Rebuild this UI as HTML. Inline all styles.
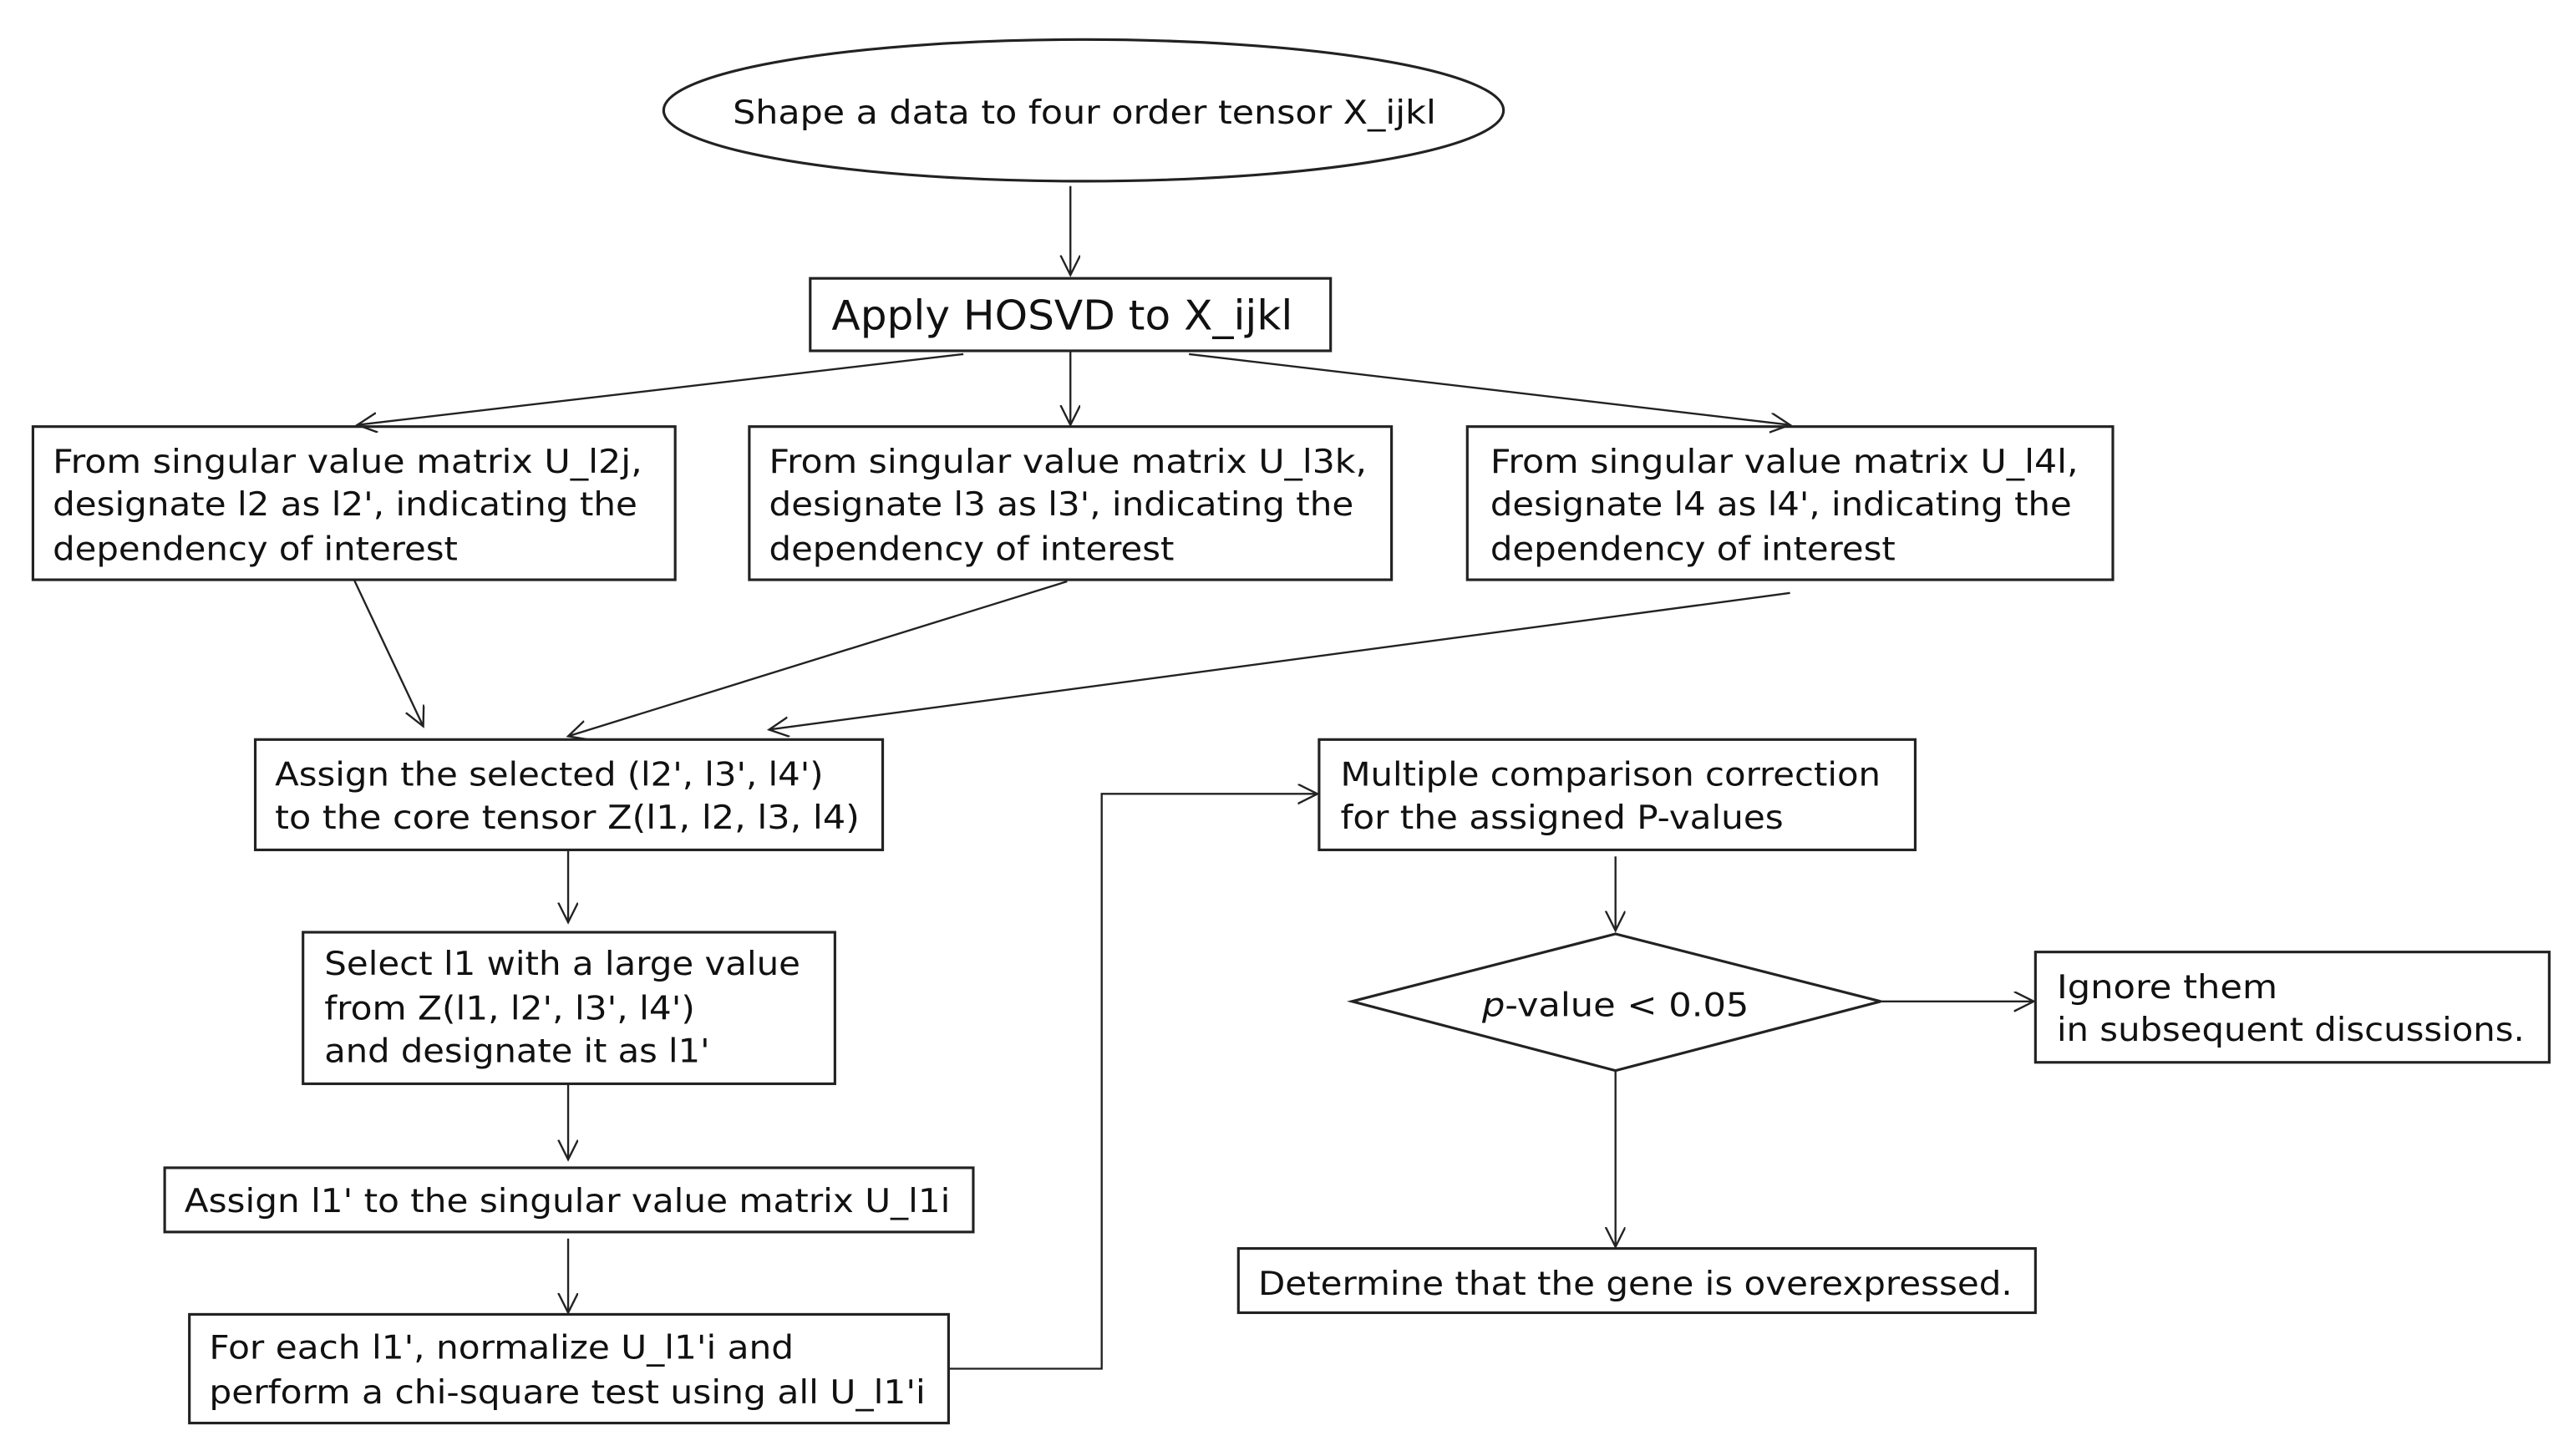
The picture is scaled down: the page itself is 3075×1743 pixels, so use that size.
<!DOCTYPE html>
<html><head><meta charset="utf-8"><style>
html,body{margin:0;padding:0;background:#fff;}
svg{display:block;}
text{font-family:"DejaVu Sans","Liberation Sans",sans-serif;font-size:20px;fill:#111;}
</style></head><body>
<svg width="3075" height="1743" viewBox="0 0 1560 884" preserveAspectRatio="none" xmlns="http://www.w3.org/2000/svg">
<defs>
<marker id="a" markerWidth="14" markerHeight="14" refX="12" refY="6" orient="auto" markerUnits="userSpaceOnUse">
<path d="M0,0 L12,6 L0,12" fill="none" stroke="#222" stroke-width="1.2"/>
</marker>
</defs>
<g fill="none" stroke="#222" stroke-width="1.6">
<ellipse cx="658" cy="67" rx="255" ry="43"/>
<rect x="492" y="169" width="316" height="44"/>
<rect x="20" y="259" width="390" height="93"/>
<rect x="455" y="259" width="390" height="93"/>
<rect x="891" y="259" width="392" height="93"/>
<rect x="155" y="449" width="381" height="67"/>
<rect x="184" y="566" width="323" height="92"/>
<rect x="100" y="709" width="491" height="39"/>
<rect x="115" y="798" width="461" height="66"/>
<rect x="801" y="449" width="362" height="67"/>
<polygon points="821,608 981,567 1142,608 981,650"/>
<rect x="1236" y="578" width="312" height="67"/>
<rect x="752" y="758" width="484" height="39"/>
</g>
<g fill="none" stroke="#222" stroke-width="1.2" marker-end="url(#a)">
<line x1="650" y1="113" x2="650" y2="167"/>
<line x1="585" y1="215" x2="217" y2="258"/>
<line x1="650" y1="213" x2="650" y2="258"/>
<line x1="722" y1="215" x2="1087" y2="258"/>
<line x1="215" y1="352" x2="257" y2="441"/>
<line x1="648" y1="353" x2="345" y2="447"/>
<line x1="1087" y1="360" x2="467" y2="443"/>
<line x1="345" y1="516" x2="345" y2="560"/>
<line x1="345" y1="658" x2="345" y2="704"/>
<line x1="345" y1="752" x2="345" y2="797"/>
<polyline points="576,831 669,831 669,482 800,482"/>
<line x1="981" y1="520" x2="981" y2="565"/>
<line x1="1142" y1="608" x2="1235" y2="608"/>
<line x1="981" y1="650" x2="981" y2="757"/>
</g>
<text x="445" y="75" textLength="427" lengthAdjust="spacingAndGlyphs">Shape a data to four order tensor X_ijkl</text>
<text x="505" y="200" style="font-size:25px" textLength="280" lengthAdjust="spacingAndGlyphs">Apply HOSVD to X_ijkl</text>
<text x="32" y="287" textLength="358" lengthAdjust="spacingAndGlyphs">From singular value matrix U_l2j,</text>
<text x="32" y="313" textLength="355" lengthAdjust="spacingAndGlyphs">designate l2 as l2', indicating the</text>
<text x="32" y="340" textLength="246" lengthAdjust="spacingAndGlyphs">dependency of interest</text>
<text x="467" y="287" textLength="363" lengthAdjust="spacingAndGlyphs">From singular value matrix U_l3k,</text>
<text x="467" y="313" textLength="355" lengthAdjust="spacingAndGlyphs">designate l3 as l3', indicating the</text>
<text x="467" y="340" textLength="246" lengthAdjust="spacingAndGlyphs">dependency of interest</text>
<text x="905" y="287" textLength="357" lengthAdjust="spacingAndGlyphs">From singular value matrix U_l4l,</text>
<text x="905" y="313" textLength="353" lengthAdjust="spacingAndGlyphs">designate l4 as l4', indicating the</text>
<text x="905" y="340" textLength="246" lengthAdjust="spacingAndGlyphs">dependency of interest</text>
<text x="167" y="477" textLength="333" lengthAdjust="spacingAndGlyphs">Assign the selected (l2', l3', l4')</text>
<text x="167" y="503" textLength="355" lengthAdjust="spacingAndGlyphs">to the core tensor Z(l1, l2, l3, l4)</text>
<text x="197" y="592" textLength="289" lengthAdjust="spacingAndGlyphs">Select l1 with a large value</text>
<text x="197" y="619" textLength="225" lengthAdjust="spacingAndGlyphs">from Z(l1, l2', l3', l4')</text>
<text x="197" y="645" textLength="234" lengthAdjust="spacingAndGlyphs">and designate it as l1'</text>
<text x="112" y="736" textLength="465" lengthAdjust="spacingAndGlyphs">Assign l1' to the singular value matrix U_l1i</text>
<text x="127" y="825" textLength="355" lengthAdjust="spacingAndGlyphs">For each l1', normalize U_l1'i and</text>
<text x="127" y="852" textLength="435" lengthAdjust="spacingAndGlyphs">perform a chi-square test using all U_l1'i</text>
<text x="814" y="477" textLength="328" lengthAdjust="spacingAndGlyphs">Multiple comparison correction</text>
<text x="814" y="503" textLength="269" lengthAdjust="spacingAndGlyphs">for the assigned P-values</text>
<text x="900" y="617" textLength="162" lengthAdjust="spacingAndGlyphs"><tspan font-style="italic">p</tspan>-value &lt; 0.05</text>
<text x="1249" y="606" textLength="134" lengthAdjust="spacingAndGlyphs">Ignore them</text>
<text x="1249" y="632" textLength="284" lengthAdjust="spacingAndGlyphs">in subsequent discussions.</text>
<text x="764" y="786" textLength="458" lengthAdjust="spacingAndGlyphs">Determine that the gene is overexpressed.</text>
</svg>
</body></html>
